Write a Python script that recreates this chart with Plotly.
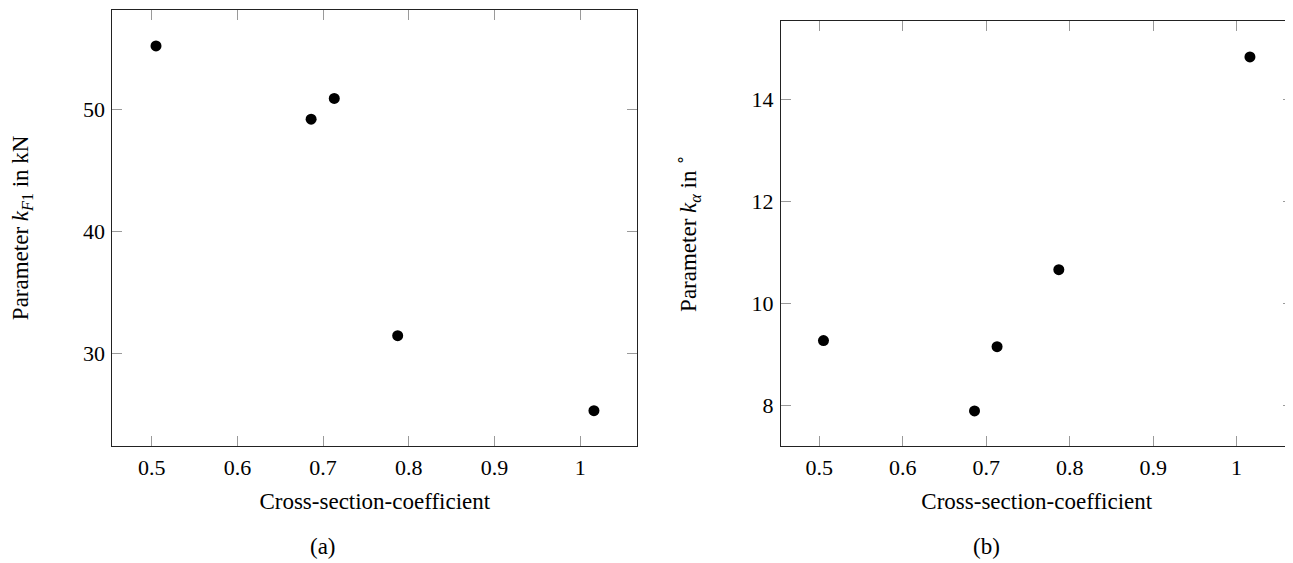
import plotly.graph_objects as go

# data
coeff = [0.505, 0.686, 0.713, 0.787, 1.016]
k_f1 = [55.2, 49.2, 50.9, 31.45, 25.3]
k_alpha = [9.27, 7.89, 9.15, 10.66, 14.83]

x_ticks = [0.5, 0.6, 0.7, 0.8, 0.9, 1.0]
x_ticktext = ["0.5", "0.6", "0.7", "0.8", "0.9", "1"]
y1_ticks = [30, 40, 50]
y2_ticks = [8, 10, 12, 14]

FONT = "Liberation Serif"
# the page body has an 8px margin, so the figure is drawn 8px in from the corner
OFF = 8
FW, FH = 1285, 555


def fx(px):
    return (px - OFF) / FW


def fy(px):
    return 1 - (px - OFF) / FH


fig = go.Figure()
fig.add_trace(go.Scatter(x=coeff, y=k_f1, mode="markers",
                         marker=dict(color="black", size=11),
                         xaxis="x", yaxis="y"))
fig.add_trace(go.Scatter(x=coeff, y=k_alpha, mode="markers",
                         marker=dict(color="black", size=11),
                         xaxis="x2", yaxis="y2"))

axis_style = dict(
    showline=True, linecolor="#222222", linewidth=1, mirror="ticks",
    ticks="inside", ticklen=10, tickwidth=1, tickcolor="#9a9a9a",
    showgrid=False, zeroline=False,
    tickfont=dict(family=FONT, size=22, color="black"),
    ticklabelstandoff=2,
)
title_font = dict(family=FONT, size=23, color="black")

fig.update_layout(
    width=FW, height=FH,
    margin=dict(l=0, r=0, t=0, b=0),
    plot_bgcolor="white", paper_bgcolor="white",
    showlegend=False,
    font=dict(family=FONT, size=22, color="black"),
    xaxis=dict(axis_style, domain=[fx(112.3), fx(637.3)], range=[0.454, 1.0666],
               tickvals=x_ticks, ticktext=x_ticktext, anchor="y",
               title=dict(text="Cross-section-coefficient", standoff=13,
                          font=title_font)),
    yaxis=dict(axis_style, domain=[fy(445.7), fy(10)], range=[22.43, 58.15],
               tickvals=y1_ticks, anchor="x",
               title=dict(text="Parameter <i>k</i><sub><i>F</i>1</sub> in kN",
                          standoff=52, font=title_font)),
    xaxis2=dict(axis_style, domain=[fx(781), fx(1292.5)], range=[0.4541, 1.067],
                tickvals=x_ticks, ticktext=x_ticktext, anchor="y2",
                title=dict(text="Cross-section-coefficient", standoff=13,
                           font=title_font)),
    yaxis2=dict(axis_style, domain=[fy(445.7), fy(21)], range=[7.208, 15.535],
                tickvals=y2_ticks, anchor="x2",
                title=dict(text="Parameter <i>k</i><sub><i>α</i></sub> in <sup>∘</sup>",
                           standoff=48, font=title_font)),
)

# subfigure captions
for label, xc in [("(a)", 323), ("(b)", 986)]:
    fig.add_annotation(text=label, x=fx(xc), y=fy(546),
                       xref="paper", yref="paper", showarrow=False,
                       xanchor="center", yanchor="middle",
                       font=title_font)

fig.write_html("out.html")
